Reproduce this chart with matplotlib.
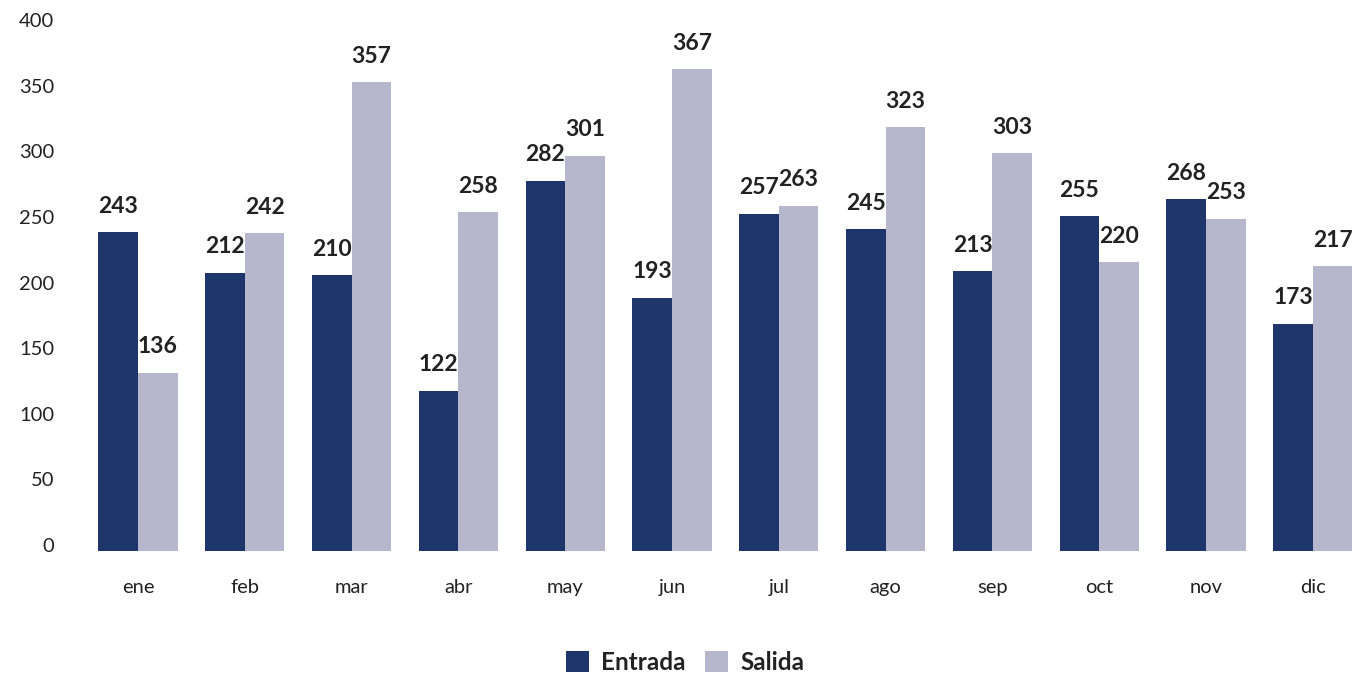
import numpy as np
import matplotlib
matplotlib.use("Agg")
import matplotlib.pyplot as plt
import matplotlib.transforms as mtransforms

plt.rcParams['font.family'] = ['Lato', 'DejaVu Sans']

meses = ['ene', 'feb', 'mar', 'abr', 'may', 'jun', 'jul', 'ago', 'sep', 'oct', 'nov', 'dic']
entrada = [243, 212, 210, 122, 282, 193, 257, 245, 213, 255, 268, 173]
salida = [136, 242, 357, 258, 301, 367, 263, 323, 303, 220, 253, 217]
yticks = [0, 50, 100, 150, 200, 250, 300, 350, 400]

c_entrada = '#1f366c'
c_salida = '#b6b7cc'

W, H = 1352, 677
fig = plt.figure(figsize=(W / 100, H / 100), dpi=100)
# ejes: el ultimo grupo queda cortado por el borde derecho, como en la original
left = 84.6 / W
width = 1281.6 / W
bottom = 1 - 551 / H
height = 525 / H
ax = fig.add_axes([left, bottom, width, height])

x = np.arange(len(meses))
bw = 0.37
b1 = ax.bar(x - bw / 2, entrada, bw, color=c_entrada, label='Entrada')
b2 = ax.bar(x + bw / 2, salida, bw, color=c_salida, label='Salida')

for bars, vals in ((b1, entrada), (b2, salida)):
    for rect, v in zip(bars, vals):
        ax.annotate(str(v), (rect.get_x() + rect.get_width() / 2, v),
                    xytext=(0, 14), textcoords='offset points',
                    ha='center', va='baseline', fontsize=16.5, fontweight='bold',
                    color='#222222', annotation_clip=False)

ax.set_xlim(-0.5, 11.5)
ax.set_ylim(0, 400)
ax.set_yticks(yticks)
ax.set_xticks(x)
ax.set_xticklabels(meses)
ax.tick_params(axis='y', length=0, pad=22, labelsize=14.5, labelcolor='#222222')
ax.tick_params(axis='x', length=0, pad=20, labelsize=14.5, labelcolor='#222222')
for s in ax.spines.values():
    s.set_visible(False)

off = mtransforms.ScaledTranslation(0, 0.06, fig.dpi_scale_trans)
for lab in ax.get_yticklabels():
    lab.set_transform(lab.get_transform() + off)

fig.legend(handles=[b1, b2], loc='center', bbox_to_anchor=(685 / W, 1 - 662 / H),
           ncol=2, frameon=False, prop={'size': 17.5, 'weight': 'bold'},
           handlelength=0.95, handleheight=0.95, handletextpad=0.5, columnspacing=0.8,
           labelcolor='#222222')

fig.savefig('out.png', dpi=100)
